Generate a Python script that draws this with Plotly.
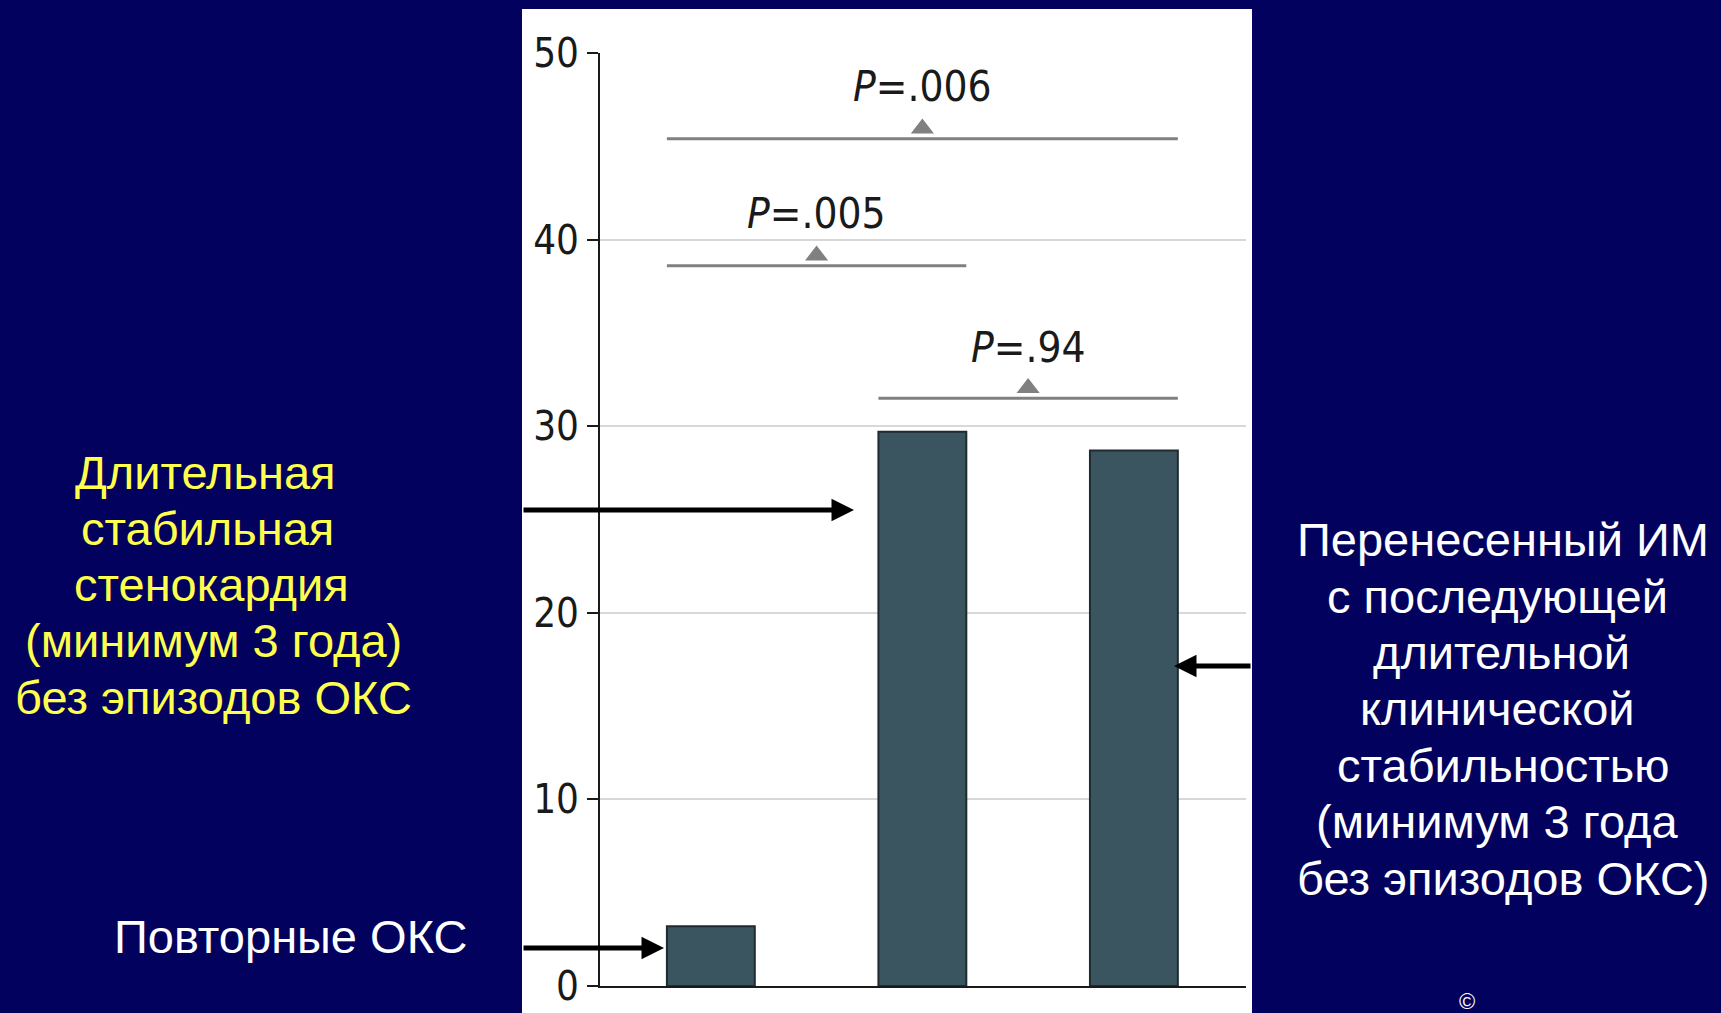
import plotly.graph_objects as go

# ---- data ----
categories = [0, 1, 2]
values = [3.2, 29.7, 28.7]
y_ticks = [0, 10, 20, 30, 40, 50]

bracket_left = [0, 0, 1]      # category index of left bar
bracket_right = [2, 1, 2]     # category index of right bar
bracket_level = [45.4, 38.6, 31.5]
bracket_text = ["<i>P</i>=.006", "<i>P</i>=.005", "<i>P</i>=.94"]
bracket_text_y = [48.2, 41.4, 34.2]

left_lines = ["Длительная", "стабильная", "стенокардия", "(минимум 3 года)", "без эпизодов ОКС"]
right_lines = ["Перенесенный ИМ", "с последующей", "длительной", "клинической",
               "стабильностью", "(минимум 3 года", "без эпизодов ОКС)"]
bottom_label = "Повторные ОКС"

W, H = 1721, 1013
PL, PR, PT, PB = 600, 1246, 53, 986   # plot area in px
BAR_W = 0.4155
XR = [-0.524, 2.53]

def px(x):
    return (x - PL) / (PR - PL)

def py(y):
    return (PB - y) / (PB - PT)

NAVY = "#02025e"
CHART_FONT = "DejaVu Sans Condensed, Liberation Sans, Arial"
TXT = "Liberation Sans, Arial"
fig = go.Figure()

fig.add_trace(go.Bar(
    x=categories, y=values, width=BAR_W,
    marker=dict(color="#3b5560", line=dict(color="#1f2b30", width=2)),
    hoverinfo="skip", showlegend=False,
))

# bracket triangles
mid = [(a + b) / 2 for a, b in zip(bracket_left, bracket_right)]
fig.add_trace(go.Scatter(
    x=mid, y=[v + 0.55 for v in bracket_level], mode="markers",
    marker=dict(symbol="triangle-up", size=20, color="#808080"),
    hoverinfo="skip", showlegend=False, cliponaxis=False,
))

shapes = [
    dict(type="rect", xref="paper", yref="paper",
         x0=px(522), x1=px(1252), y0=py(1013), y1=py(9),
         fillcolor="white", line=dict(width=0), layer="below"),
]
for a, b, lv in zip(bracket_left, bracket_right, bracket_level):
    shapes.append(dict(type="line", xref="x", yref="y",
                       x0=a - BAR_W / 2, x1=b + BAR_W / 2, y0=lv, y1=lv,
                       line=dict(color="#808080", width=3)))

annotations = []
for m, t, ty in zip(mid, bracket_text, bracket_text_y):
    annotations.append(dict(x=m, y=ty, xref="x", yref="y", text=t, showarrow=False,
                            xanchor="center", yanchor="middle",
                            font=dict(family=CHART_FONT, size=42, color="#1a1a1a")))

left_x = [205, 207, 211, 213, 213]
left_y = [472, 528, 584, 641, 697]
for t, lx, ly in zip(left_lines, left_x, left_y):
    annotations.append(dict(x=px(lx), y=py(ly), xref="paper", yref="paper", text=t,
                            showarrow=False, font=dict(family=TXT, size=47, color="#ffff4d"),
                            xanchor="center", yanchor="middle"))

right_x = [1503, 1497, 1501, 1497, 1503, 1497, 1503]
right_y = [539, 596, 652, 708, 765, 821, 878]
for t, rx, ry in zip(right_lines, right_x, right_y):
    annotations.append(dict(x=px(rx), y=py(ry), xref="paper", yref="paper", text=t,
                            showarrow=False, font=dict(family=TXT, size=47, color="white"),
                            xanchor="center", yanchor="middle"))

annotations += [
    dict(x=px(290), y=py(936), xref="paper", yref="paper", text=bottom_label,
         showarrow=False, font=dict(family=TXT, size=47, color="white"),
         xanchor="center", yanchor="middle"),
    dict(x=px(1467), y=py(1001), xref="paper", yref="paper", text="©",
         showarrow=False, font=dict(family=TXT, size=22, color="white"),
         xanchor="center", yanchor="middle"),
]

# arrows (tip in px coordinates, tail offset in px)
arrows = [((854, 510), -332), ((664, 948), -142), ((1174, 666), 78)]
for (tx, ty), ax in arrows:
    annotations.append(dict(x=px(tx), y=py(ty), xref="paper", yref="paper",
                            ax=ax, ay=0, axref="pixel", ayref="pixel", text="",
                            showarrow=True, arrowhead=2, arrowsize=0.9, arrowwidth=5,
                            arrowcolor="black"))

fig.update_layout(
    width=W, height=H,
    margin=dict(l=PL, r=W - PR, t=PT, b=H - PB, autoexpand=False),
    paper_bgcolor=NAVY, plot_bgcolor="white",
    shapes=shapes, annotations=annotations,
    xaxis=dict(range=XR, showticklabels=False, showgrid=False, zeroline=False,
               showline=True, linecolor="#1a1a1a", linewidth=2, ticks="", automargin=False),
    yaxis=dict(range=[0, 50], tickvals=y_ticks, showgrid=True, gridcolor="#d8d8d8", gridwidth=2,
               zeroline=False, showline=True, linecolor="#1a1a1a", linewidth=2,
               ticks="outside", ticklen=11, tickwidth=2, tickcolor="#1a1a1a", automargin=False,
               tickfont=dict(family=CHART_FONT, size=40, color="#1a1a1a")),
    bargap=0.5,
)

fig.write_html("out.html", config={"displayModeBar": False},
               post_script="document.body.style.margin='0';")
